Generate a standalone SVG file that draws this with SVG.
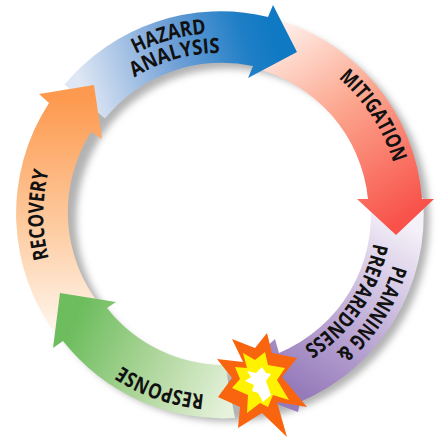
<svg xmlns="http://www.w3.org/2000/svg" width="447" height="440" viewBox="0 0 447 440">
<style>
.t{font-family:"Open Sans","Liberation Sans",sans-serif;font-weight:700;font-size:21px;fill:#111;text-anchor:middle}
</style>
<defs>
<filter id="blur" x="-20%" y="-20%" width="140%" height="140%"><feGaussianBlur stdDeviation="3.5"/></filter>
<linearGradient id="gb" gradientUnits="userSpaceOnUse" x1="85" y1="100" x2="275" y2="40"><stop offset="0" stop-color="#dfe7f4"/><stop offset=".5" stop-color="#6f9fd6"/><stop offset=".85" stop-color="#1f7fc6"/><stop offset="1" stop-color="#1079c3"/></linearGradient>
<linearGradient id="gr" gradientUnits="userSpaceOnUse" x1="265" y1="30" x2="395" y2="225"><stop offset="0" stop-color="#fff3ee"/><stop offset=".45" stop-color="#fca78f"/><stop offset="1" stop-color="#f8524a"/></linearGradient>
<linearGradient id="gp" gradientUnits="userSpaceOnUse" x1="395" y1="215" x2="290" y2="385"><stop offset="0" stop-color="#f5f1f9"/><stop offset=".5" stop-color="#c5b4da"/><stop offset="1" stop-color="#967bbb"/></linearGradient>
<linearGradient id="gg" gradientUnits="userSpaceOnUse" x1="235" y1="395" x2="75" y2="320"><stop offset="0" stop-color="#e6f2dc"/><stop offset=".5" stop-color="#aed69b"/><stop offset="1" stop-color="#6dbd5e"/></linearGradient>
<linearGradient id="go" gradientUnits="userSpaceOnUse" x1="70" y1="330" x2="70" y2="100"><stop offset="0" stop-color="#fff5ec"/><stop offset=".4" stop-color="#fdd0a8"/><stop offset="1" stop-color="#fd9a50"/></linearGradient>
<path id="p-rec" d="M95,340A177,177 0 0 1 95,90"/>
<path id="p-haz" d="M60.8,126.8A182,182 0 0 1 308.2,55.8"/>
<path id="p-ana" d="M78.3,136.5A162,162 0 0 1 298.5,73.3"/>
<path id="p-mit" d="M257.6,38A181,181 0 0 1 397,252.6"/>
<path id="p-pla" d="M396,177.6A180,180 0 0 1 257.4,391"/>
<path id="p-pre" d="M373.1,185.2A156,156 0 0 1 249.8,368.1"/>
<path id="p-res" d="M298.9,376.8A180,180 0 0 1 58.2,293.9"/>
</defs>
<rect width="447" height="440" fill="#fff"/>
<g id="shadow" filter="url(#blur)"><circle cx="228" cy="220" r="176.5" fill="none" stroke="#8a8a8a" stroke-opacity=".65" stroke-width="50"/></g>
<g id="planning"><path d="M423,198A203,203 0 0 1 300,402L298,412L225,385L275,339L279,353A150,150 0 0 0 370,198Z" fill="url(#gp)"/></g>
<g id="mitigation"><path d="M268,17A203,203 0 0 1 422,199L434,199L396,235L357,199L368,199A150,150 0 0 0 253,68Z" fill="url(#gr)"/></g>
<g id="hazard"><path d="M64.5,84.5A203,203 0 0 1 268,17L273,5L297,52L248,78L253,66A150,150 0 0 0 105,118.6Z" fill="url(#gb)"/></g>
<g id="recovery"><path d="M57.9,337.2A203,203 0 0 1 49,103L39,94L94,85L102,139L91,132A150,150 0 0 0 100.2,305.3Z" fill="url(#go)"/></g>
<g id="response"><path d="M235,418A203,203 0 0 1 63,341L53,348L60,293L116,302L107,308A150,150 0 0 0 225,365Z" fill="url(#gg)"/></g>
<g id="labels">
<text class="t"><textPath href="#p-mit" startOffset="50%" textLength="102" lengthAdjust="spacingAndGlyphs">MITIGATION</textPath></text>
<text class="t"><textPath href="#p-haz" startOffset="50%" textLength="74" lengthAdjust="spacingAndGlyphs">HAZARD</textPath></text>
<text class="t"><textPath href="#p-ana" startOffset="50%" textLength="90" lengthAdjust="spacingAndGlyphs">ANALYSIS</textPath></text>
<text class="t"><textPath href="#p-rec" startOffset="50%" textLength="88" lengthAdjust="spacingAndGlyphs">RECOVERY</textPath></text>
<text class="t"><textPath href="#p-res" startOffset="50%" textLength="88" lengthAdjust="spacingAndGlyphs">RESPONSE</textPath></text>
<text class="t"><textPath href="#p-pla" startOffset="50%" textLength="106" lengthAdjust="spacingAndGlyphs">PLANNING &amp;</textPath></text>
<text class="t"><textPath href="#p-pre" startOffset="50%" textLength="128" lengthAdjust="spacingAndGlyphs">PREPAREDNESS</textPath></text>
</g>
<g id="hazard-event">
<polygon points="267,333 272,353 297,358 282,377 307,407 277,402 287,437 262,413 238,428 240,407 218,397 232,378 217,359 243,362 232,339 255,348" fill="#f9650f"/>
<polygon points="265,352 268,365 285,368 277,380 289,400 273,395 268,407 260,403 247,413 248,395 232,388 240,379 235,367 247,368 243,353 255,360" fill="#fff200"/>
<polygon points="262,367 266,373 271,374 266,381 271,395 263,402 258,393 252,391 254,385 245,381 251,377 247,371 256,373" fill="#fff"/>
</g>
</svg>
